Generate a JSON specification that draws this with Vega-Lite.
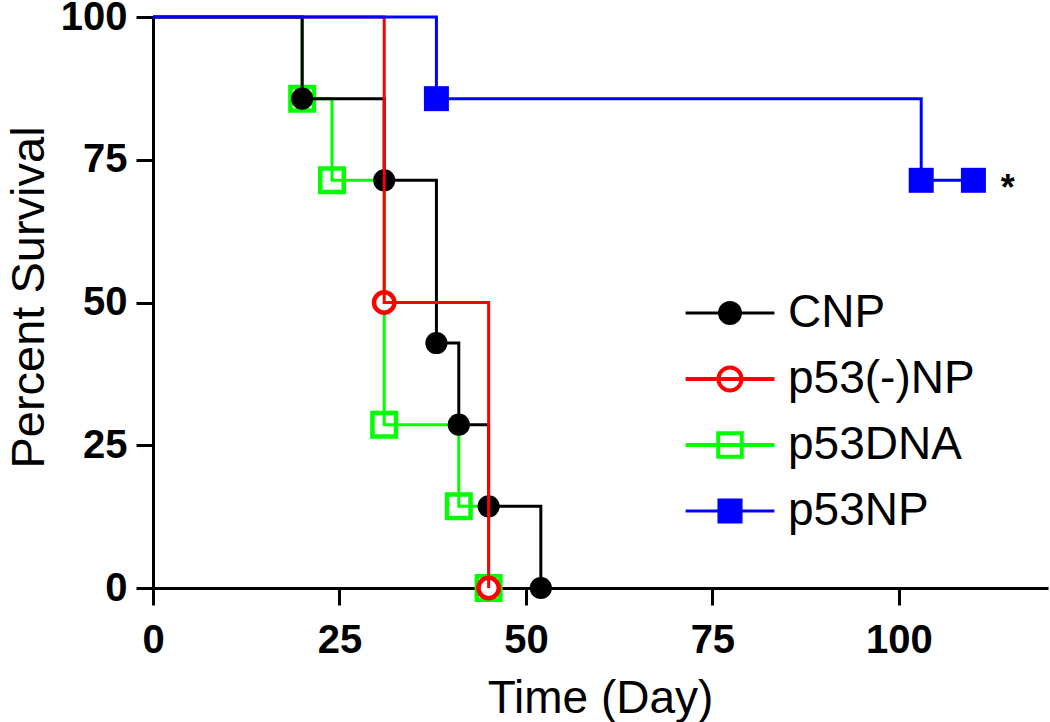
{
  "$schema": "https://vega.github.io/schema/vega-lite/v6.json",
  "autosize": "none",
  "width": 895,
  "height": 571,
  "padding": {"left": 153, "top": 17, "right": 2, "bottom": 134},
  "background": "white",
  "datasets": {
    "km": [
      {"group": "p53DNA", "day": 0, "survival": 100},
      {"group": "p53DNA", "day": 20, "survival": 85.7},
      {"group": "p53DNA", "day": 24, "survival": 71.4},
      {"group": "p53DNA", "day": 31, "survival": 28.6},
      {"group": "p53DNA", "day": 41, "survival": 14.3},
      {"group": "p53DNA", "day": 45, "survival": 0},
      {"group": "CNP", "day": 0, "survival": 100},
      {"group": "CNP", "day": 20, "survival": 85.7},
      {"group": "CNP", "day": 31, "survival": 71.4},
      {"group": "CNP", "day": 38, "survival": 42.9},
      {"group": "CNP", "day": 41, "survival": 28.6},
      {"group": "CNP", "day": 45, "survival": 14.3},
      {"group": "CNP", "day": 52, "survival": 0},
      {"group": "p53(-)NP", "day": 0, "survival": 100},
      {"group": "p53(-)NP", "day": 31, "survival": 50},
      {"group": "p53(-)NP", "day": 45, "survival": 0},
      {"group": "p53NP", "day": 0, "survival": 100},
      {"group": "p53NP", "day": 38, "survival": 85.7},
      {"group": "p53NP", "day": 103, "survival": 71.4},
      {"group": "p53NP", "day": 110, "survival": 71.4}
    ],
    "note": [
      {"day": 114.6, "survival": 71.4, "label": "*"}
    ]
  },
  "encoding": {
    "x": {
      "field": "day",
      "type": "quantitative",
      "scale": {"domain": [0, 120], "nice": false, "zero": false},
      "axis": {
        "title": "Time (Day)",
        "values": [0, 25, 50, 75, 100],
        "labelPadding": 15,
        "labelFlush": false,
        "labelOverlap": false,
        "labelAngle": 0,
        "titleX": 447,
        "titleY": 124,
        "titleFontSize": 46,
        "titleBaseline": "alphabetic",
        "titleAlign": "center"
      }
    },
    "y": {
      "field": "survival",
      "type": "quantitative",
      "scale": {"domain": [0, 100], "nice": false},
      "axis": {
        "title": "Percent Survival",
        "values": [0, 25, 50, 75, 100],
        "labelPadding": 9,
        "labelOverlap": false,
        "titleX": -110,
        "titleY": 280,
        "titleFontSize": 47,
        "titleAngle": -90,
        "titleBaseline": "alphabetic",
        "titleAlign": "center"
      }
    }
  },
  "layer": [
    {
      "data": {"name": "km"},
      "transform": [{"filter": "datum.group === 'p53DNA' && datum.day > 0"}],
      "mark": {"type": "point", "shape": "square", "filled": false, "fill": "white", "size": 552, "strokeWidth": 4.5, "opacity": 1},
      "encoding": {
        "color": {
          "field": "group",
          "type": "nominal",
          "scale": {"domain": ["CNP", "p53(-)NP", "p53DNA", "p53NP"], "range": ["#000000", "#ff0000", "#00ff00", "#0000ff"]},
          "legend": {
            "orient": "none",
            "legendX": 554,
            "legendY": 273,
            "title": null,
            "padding": 0,
            "symbolSize": 576,
            "labelFontSize": 46,
            "labelFont": "Liberation Sans",
            "labelColor": "black",
            "labelOffset": 35,
            "rowPadding": 20,
            "labelLimit": 400,
            "encoding": {
              "symbols": {
                "shape": {"value": {"expr": "datum.value === 'CNP' ? 'M-3.7,0H3.7M-0.875,0A0.875,0.875,0,1,0,0.875,0A0.875,0.875,0,1,0,-0.875,0Z' : datum.value === 'p53(-)NP' ? 'M-3.7,0H3.7M-0.96,0A0.96,0.96,0,1,0,0.96,0A0.96,0.96,0,1,0,-0.96,0Z' : datum.value === 'p53DNA' ? 'M-3.7,0H3.7M-0.98,-0.98H0.98V0.98H-0.98Z' : 'M-3.7,0H3.7M-0.92,-0.92H0.92V0.92H-0.92Z'"}},
                "stroke": {"value": {"expr": "datum.value === 'CNP' ? '#000000' : datum.value === 'p53(-)NP' ? '#ff0000' : datum.value === 'p53DNA' ? '#00ff00' : '#0000ff'"}},
                "strokeWidth": {"value": {"expr": "datum.value === 'p53(-)NP' || datum.value === 'p53DNA' ? 4 : 3"}},
                "opacity": {"value": 1},
                "fillOpacity": {"value": {"expr": "datum.value === 'CNP' || datum.value === 'p53NP' ? 1 : 0"}},
                "strokeOpacity": {"value": 1}
              }
            }
          }
        }
      }
    },
    {
      "data": {"name": "km"},
      "transform": [{"filter": "datum.group === 'p53DNA'"}],
      "mark": {"type": "line", "interpolate": "step-after", "strokeWidth": 3},
      "encoding": {"color": {"field": "group", "type": "nominal"}}
    },
    {
      "data": {"name": "km"},
      "transform": [{"filter": "datum.group === 'CNP'"}],
      "mark": {"type": "line", "interpolate": "step-after", "strokeWidth": 3},
      "encoding": {"color": {"field": "group", "type": "nominal"}}
    },
    {
      "data": {"name": "km"},
      "transform": [{"filter": "datum.group === 'CNP' && datum.day > 0"}],
      "mark": {"type": "point", "shape": "circle", "filled": true, "size": 491, "opacity": 1},
      "encoding": {"color": {"field": "group", "type": "nominal"}}
    },
    {
      "data": {"name": "km"},
      "transform": [{"filter": "datum.group === 'p53(-)NP' && datum.day > 0"}],
      "mark": {"type": "point", "shape": "circle", "filled": false, "fill": "white", "size": 415, "strokeWidth": 4.5, "opacity": 1},
      "encoding": {"color": {"field": "group", "type": "nominal"}}
    },
    {
      "data": {"name": "km"},
      "transform": [{"filter": "datum.group === 'p53(-)NP'"}],
      "mark": {"type": "line", "interpolate": "step-after", "strokeWidth": 3},
      "encoding": {"color": {"field": "group", "type": "nominal"}}
    },
    {
      "data": {"name": "km"},
      "transform": [{"filter": "datum.group === 'p53NP'"}],
      "mark": {"type": "line", "interpolate": "step-after", "strokeWidth": 3},
      "encoding": {"color": {"field": "group", "type": "nominal"}}
    },
    {
      "data": {"name": "km"},
      "transform": [{"filter": "datum.group === 'p53NP' && datum.day > 0"}],
      "mark": {"type": "point", "shape": "square", "filled": true, "size": 625, "opacity": 1},
      "encoding": {"color": {"field": "group", "type": "nominal"}}
    },
    {
      "data": {"name": "note"},
      "mark": {"type": "text", "font": "Liberation Sans", "fontWeight": "bold", "fontSize": 36, "align": "center", "baseline": "middle", "dy": 9, "color": "black"},
      "encoding": {"text": {"field": "label", "type": "nominal"}}
    }
  ],
  "config": {
    "view": {"stroke": null},
    "font": "Liberation Sans",
    "axis": {
      "grid": false,
      "domainColor": "black",
      "domainWidth": 3,
      "tickColor": "black",
      "tickWidth": 3,
      "tickSize": 17,
      "labelFont": "Liberation Sans",
      "labelFontWeight": "bold",
      "labelFontSize": 40,
      "labelColor": "black",
      "titleFont": "Liberation Sans",
      "titleFontWeight": "normal",
      "titleFontSize": 45,
      "titleColor": "black"
    }
  }
}
